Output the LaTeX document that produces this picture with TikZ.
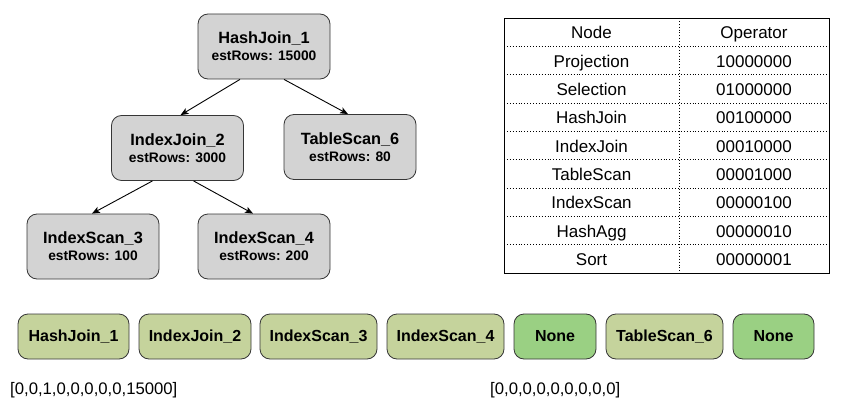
\documentclass[tikz,border=0pt]{standalone}
\usepackage{fontspec}
\setmainfont{Liberation Sans}
\usetikzlibrary{arrows.meta,calc}
\definecolor{treegray}{HTML}{D3D3D3}
\definecolor{opolive}{HTML}{C5D39C}
\definecolor{nonegreen}{HTML}{9AD083}
\definecolor{edgegray}{HTML}{363636}
\begin{document}
\begin{tikzpicture}[x=1pt,y=-1pt,
  treebox/.style={draw=edgegray, line width=0.8pt, fill=treegray, rounded corners=10pt,
    minimum width=132pt, minimum height=65pt, inner sep=0pt, align=center,
    font=\bfseries\fontsize{13.8}{16.7}\selectfont},
  opbox/.style={draw=edgegray, line width=0.8pt, fill=opolive, rounded corners=10pt,
    minimum height=45pt, inner sep=0pt, font=\bfseries\fontsize{16}{19}\selectfont},
  nonebox/.style={opbox, fill=nonegreen},
  cell/.style={font=\fontsize{17}{20}\selectfont, inner sep=0pt, anchor=base},
  edge/.style={-{Stealth[length=8pt,width=6.5pt,inset=2pt]}, line width=0.9pt},
  vec/.style={font=\fontsize{16.7}{19}\selectfont, anchor=base west, inner sep=0pt}]
\useasboundingbox (0,0) rectangle (862,412);

% tree
\node[treebox] (hj)  at (264,46.5)  {{\fontsize{16.3}{16.7}\selectfont HashJoin\_1}\\estRows: 15000};
\node[treebox] (ij)  at (177.5,148) {{\fontsize{16.3}{16.7}\selectfont IndexJoin\_2}\\estRows: 3000};
\node[treebox] (ts)  at (350,147)   {{\fontsize{16.3}{16.7}\selectfont TableScan\_6}\\estRows: 80};
\node[treebox] (is3) at (93,246.5)  {{\fontsize{16.3}{16.7}\selectfont IndexScan\_3}\\estRows: 100};
\node[treebox] (is4) at (264,246.5) {{\fontsize{16.3}{16.7}\selectfont IndexScan\_4}\\estRows: 200};

\draw[edge] ([xshift=-24pt]hj.south) -- ([xshift=3pt]ij.north);
\draw[edge] ([xshift=20pt]hj.south) -- ([xshift=-2pt]ts.north);
\draw[edge] ([xshift=-25pt]ij.south) -- ([xshift=-1pt]is3.north);
\draw[edge] ([xshift=16pt]ij.south) -- ([xshift=-11pt]is4.north);

% table
\draw[line width=0.8pt] (504,18) rectangle (829,273);
\foreach \i in {1,...,8}{
  \draw[dotted, line width=0.9pt] (504,{18+28.333*\i}) -- (829,{18+28.333*\i});
}
\draw[dotted, line width=0.9pt] (679,18) -- (679,273);
\foreach \a/\b [count=\i from 0] in {Node/Operator, Projection/10000000, Selection/01000000,
    HashJoin/00100000, IndexJoin/00010000, TableScan/00001000, IndexScan/00000100,
    HashAgg/00000010, Sort/00000001}{
  \node[cell] (n\i) at (591.5,{18+28.333*(\i+0.5)+6.8}) {\a};
  \node[cell] (o\i) at (754,{18+28.333*(\i+0.5)+6.8}) {\b};
}

% bottom row
\node[opbox, minimum width=111pt] (b1) at (73.5,336.5)  {HashJoin\_1};
\node[opbox, minimum width=112pt] (b2) at (195,336.5)   {IndexJoin\_2};
\node[opbox, minimum width=117pt] (b3) at (318.5,336.5) {IndexScan\_3};
\node[opbox, minimum width=117pt] (b4) at (445.5,336.5) {IndexScan\_4};
\node[nonebox, minimum width=82pt] (b5) at (555,336.5)  {None};
\node[opbox, minimum width=117pt] (b6) at (664.5,336.5) {TableScan\_6};
\node[nonebox, minimum width=81pt] (b7) at (773.5,336.5) {None};

\node[vec] (v1) at (10,394)  {[0,0,1,0,0,0,0,0,15000]};
\node[vec] (v2) at (490,394) {[0,0,0,0,0,0,0,0,0]};
\end{tikzpicture}
\end{document}
